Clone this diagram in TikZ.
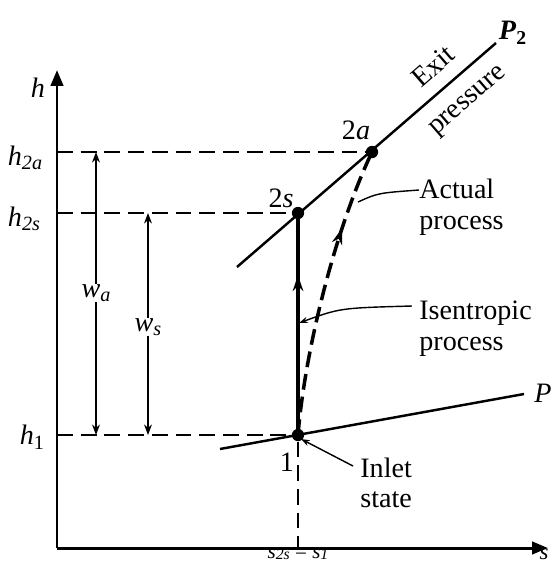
\documentclass[tikz,border=0pt]{standalone}
\usepackage{fontspec}
\setmainfont{Liberation Serif}
\usetikzlibrary{arrows.meta,decorations.markings}
\newcommand\myiv[2]{\textit{#1}\raisebox{-0.35ex}{\fontsize{11.5}{12}\selectfont\itshape #2}}
\newcommand\myivb[2]{\textit{#1}\raisebox{-0.15ex}{\fontsize{9}{9}\selectfont\itshape #2}}
\begin{document}
\begin{tikzpicture}[x=0.02cm,y=-0.02cm,
  txt/.style={font=\fontsize{16}{17.5}\selectfont, inner sep=0pt},
  mlab/.style={font=\fontsize{16}{17}\selectfont, inner sep=0pt},
  dot/.style={circle, fill=black, inner sep=0pt, minimum size=7pt},
  axis/.style={line width=1.7pt, -{Triangle[length=9pt,width=7pt]}},
  pline/.style={line width=1.4pt},
  hdash/.style={line width=1.1pt, dash pattern=on 9pt off 4.5pt},
  dim/.style={line width=0.8pt, -{Stealth[length=6pt,width=4.5pt]}},
  leader/.style={line width=0.8pt},
  midarrow/.style={postaction={decorate}, decoration={markings,
     mark=at position #1 with {\arrow{Stealth[length=9pt,width=6pt]}}}}
]
\useasboundingbox (0,0) rectangle (552,562);

% axes
\coordinate (O) at (57,548);
\coordinate (ytip) at (57,70);
\coordinate (xtip) at (548,548);
\draw[axis] (O) -- (ytip);
\draw[axis] (O) -- (xtip);
\node[mlab] (hlab) at (38,88) {\textit{h}};
\node[mlab, font=\fontsize{13}{14}\selectfont, anchor=base] (slab) at (544,559) {\textit{s}};

% states
\node[dot] (p1) at (298,435) {};
\node[dot] (p2s) at (298,213) {};
\node[dot] (p2a) at (372,152) {};

% pressure lines
\coordinate (P2a) at (237,267);
\coordinate (P2b) at (496,43);
\draw[pline] (P2a) -- (P2b);
\coordinate (P1a) at (220,449);
\coordinate (P1b) at (524,394);
\draw[pline] (P1a) -- (P1b);
\node[txt, font=\fontsize{16}{17}\selectfont\bfseries] (P2lab) at (513,33) {\textit{P}\textsubscript{2}};
\node[txt, font=\fontsize{16}{17}\selectfont\itshape] (P1lab) at (543,393) {P};
\node[txt, rotate=41] (exit) at (433,66) {Exit};
\node[txt, rotate=41] (press) at (469,102) {pressure};

% dashed reference lines
\coordinate (h2a) at (57,152);
\coordinate (h2s) at (57,213);
\coordinate (h1) at (57,435);
\coordinate (s1) at (298,548);
\draw[hdash] (h2a) -- (p2a);
\draw[hdash] (h2s) -- (p2s);
\draw[hdash] (h1) -- (p1);
\draw[hdash] (p1) -- (s1);

\node[mlab] (h2alab) at (25,158) {\myiv{h}{2a}};
\node[mlab] (h2slab) at (24,219) {\myiv{h}{2s}};
\node[mlab] (h1lab) at (32,437) {\textit{h}\raisebox{-0.35ex}{\fontsize{11.5}{12}\selectfont 1}};
\node[mlab, font=\fontsize{12}{13}\selectfont, anchor=base] (slab2) at (298,558) {\myivb{s}{2s} = \myivb{s}{1}};

% work dimension arrows
\node[mlab] (wa) at (96,293) {\myiv{w}{a}};
\coordinate (wat) at (96,152);
\coordinate (wab) at (96,435);
\draw[dim] (wa.north) -- (wat);
\draw[dim] (wa.south) -- (wab);
\node[mlab] (ws) at (148,327) {\myiv{w}{s}};
\coordinate (wst) at (148,213);
\coordinate (wsb) at (148,435);
\draw[dim] (ws.north) -- (wst);
\draw[dim] (ws.south) -- (wsb);

% processes
\draw[line width=2.2pt, midarrow=0.72] (p1.center) -- (p2s.center);
\draw[line width=2pt, dash pattern=on 9pt off 4pt, midarrow=0.72]
  (p1.center) .. controls (305,350) and (335,230) .. (p2a.center);

% state labels
\node[mlab] (l2a) at (356,130) {2\textit{a}};
\node[mlab] (l2s) at (281,198) {2\textit{s}};
\node[txt] (l1) at (287,462) {1};

% annotations
\node[txt, anchor=west, align=left] (act) at (419,207) {Actual\\process};
\coordinate (actA) at (358,202);
\draw[leader] (actA) .. controls (378,193) .. (act.west |- 0,190);
\node[txt, anchor=west, align=left] (isen) at (419,329) {Isentropic\\process};
\coordinate (isA) at (299,323);
\draw[leader, {Stealth[length=5pt,width=3.5pt]}-] (isA) .. controls (340,308) .. ([xshift=-4pt]isen.west |- 0,306);
\node[txt, anchor=west, align=left] (inl) at (360,483) {Inlet\\state};
\coordinate (inA) at (301,439);
\draw[leader, {Stealth[length=5pt,width=3.5pt]}-] (inA) -- (353,466);
\end{tikzpicture}
\end{document}
